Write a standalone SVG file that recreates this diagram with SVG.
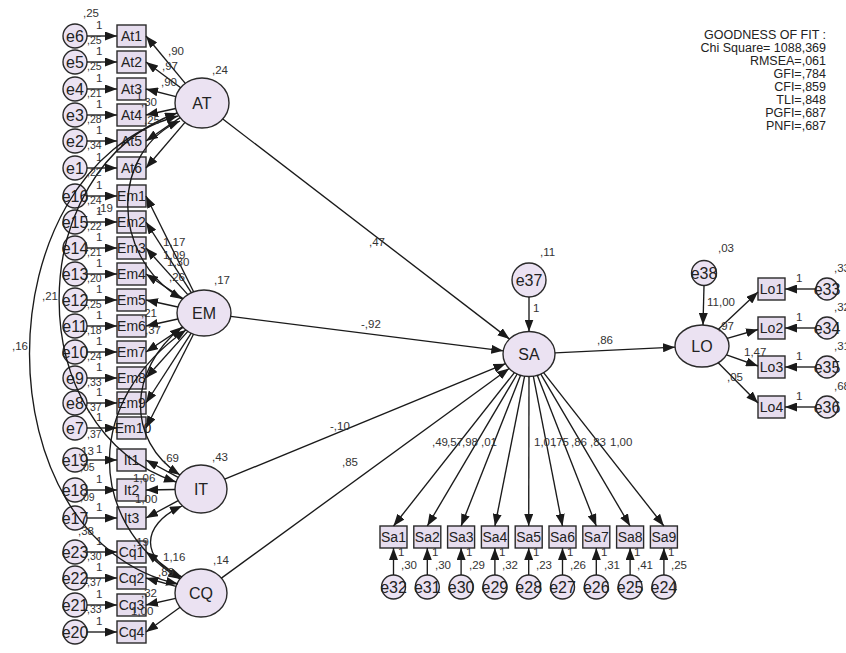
<svg xmlns="http://www.w3.org/2000/svg" width="846" height="653" viewBox="0 0 846 653">
<defs>
<marker id="ah" markerUnits="userSpaceOnUse" markerWidth="12" markerHeight="9" refX="12" refY="4.5" orient="auto-start-reverse"><path d="M0,0 L12,4.5 L0,9 z" fill="#1a1a1a"/></marker>
</defs>
<style>
.n{fill:#ebe2f2;stroke:#2a2a2a;stroke-width:1.4}
.b{fill:#e6ddee;stroke:#2a2a2a;stroke-width:1.4}
.lt{font-family:"Liberation Sans",Arial,sans-serif;font-size:16px;fill:#222;text-anchor:middle}
.bt{font-family:"Liberation Sans",Arial,sans-serif;font-size:14px;fill:#222;text-anchor:middle}
.et{font-family:"Liberation Sans",Arial,sans-serif;font-size:16px;fill:#222;text-anchor:middle}
.s{font-family:"Liberation Sans",Arial,sans-serif;font-size:11.5px;fill:#333}
.v{font-family:"Liberation Sans",Arial,sans-serif;font-size:10.5px;fill:#333}
.g{font-family:"Liberation Sans",Arial,sans-serif;font-size:12.5px;fill:#222;text-anchor:end}
.c line,.c path{stroke:#1a1a1a;stroke-width:1.35;fill:none}
.a{marker-end:url(#ah)}
.d{marker-start:url(#ah);marker-end:url(#ah)}
</style>
<rect width="846" height="653" fill="#fff"/>

<!-- latent nodes -->
<g id="AT"><ellipse class="n" cx="202" cy="103" rx="27" ry="25"/><text class="lt" x="202" y="109">AT</text></g>
<g id="EM"><ellipse class="n" cx="204" cy="313" rx="27" ry="23"/><text class="lt" x="204" y="319">EM</text></g>
<g id="IT"><ellipse class="n" cx="201" cy="489" rx="26" ry="24"/><text class="lt" x="201" y="495">IT</text></g>
<g id="CQ"><ellipse class="n" cx="201" cy="593" rx="26" ry="24"/><text class="lt" x="201" y="599">CQ</text></g>
<g id="SA"><ellipse class="n" cx="529" cy="354" rx="26" ry="22.5"/><text class="lt" x="529" y="360">SA</text></g>
<g id="LO"><ellipse class="n" cx="702" cy="346" rx="27" ry="21"/><text class="lt" x="702" y="352">LO</text></g>
<g id="e37"><circle class="n" cx="529" cy="280" r="17"/><text class="et" x="529" y="286">e37</text></g>
<g id="e38"><circle class="n" cx="704" cy="273" r="12.5"/><text class="et" x="704" y="279">e38</text></g>

<!-- left indicators -->
<g id="At1"><rect class="b" x="117" y="25" width="29" height="22"/><text class="bt" x="131.5" y="41">At1</text></g>
<g id="At2"><rect class="b" x="117" y="51" width="29" height="22"/><text class="bt" x="131.5" y="67">At2</text></g>
<g id="At3"><rect class="b" x="117" y="78" width="29" height="22"/><text class="bt" x="131.5" y="94">At3</text></g>
<g id="At4"><rect class="b" x="117" y="104" width="29" height="22"/><text class="bt" x="131.5" y="120">At4</text></g>
<g id="At5"><rect class="b" x="117" y="130" width="29" height="22"/><text class="bt" x="131.5" y="146">At5</text></g>
<g id="At6"><rect class="b" x="117" y="157" width="29" height="22"/><text class="bt" x="131.5" y="173">At6</text></g>
<g id="Em1"><rect class="b" x="117" y="185" width="29" height="22"/><text class="bt" x="131.5" y="201">Em1</text></g>
<g id="Em2"><rect class="b" x="117" y="211" width="29" height="22"/><text class="bt" x="131.5" y="227">Em2</text></g>
<g id="Em3"><rect class="b" x="117" y="237" width="29" height="22"/><text class="bt" x="131.5" y="253">Em3</text></g>
<g id="Em4"><rect class="b" x="117" y="263" width="29" height="22"/><text class="bt" x="131.5" y="279">Em4</text></g>
<g id="Em5"><rect class="b" x="117" y="289" width="29" height="22"/><text class="bt" x="131.5" y="305">Em5</text></g>
<g id="Em6"><rect class="b" x="117" y="315" width="29" height="22"/><text class="bt" x="131.5" y="331">Em6</text></g>
<g id="Em7"><rect class="b" x="117" y="341" width="29" height="22"/><text class="bt" x="131.5" y="357">Em7</text></g>
<g id="Em8"><rect class="b" x="117" y="367" width="29" height="22"/><text class="bt" x="131.5" y="383">Em8</text></g>
<g id="Em9"><rect class="b" x="117" y="392" width="29" height="22"/><text class="bt" x="131.5" y="408">Em9</text></g>
<g id="Em10"><rect class="b" x="117" y="417" width="29" height="22"/><text class="bt" x="133" y="433">Em10</text></g>
<g id="It1"><rect class="b" x="117" y="449" width="29" height="22"/><text class="bt" x="131.5" y="465">It1</text></g>
<g id="It2"><rect class="b" x="117" y="479" width="29" height="22"/><text class="bt" x="131.5" y="495">It2</text></g>
<g id="It3"><rect class="b" x="117" y="507" width="29" height="22"/><text class="bt" x="131.5" y="523">It3</text></g>
<g id="Cq1"><rect class="b" x="117" y="541" width="29" height="22"/><text class="bt" x="131.5" y="557">Cq1</text></g>
<g id="Cq2"><rect class="b" x="117" y="567" width="29" height="22"/><text class="bt" x="131.5" y="583">Cq2</text></g>
<g id="Cq3"><rect class="b" x="117" y="594" width="29" height="22"/><text class="bt" x="131.5" y="610">Cq3</text></g>
<g id="Cq4"><rect class="b" x="117" y="621" width="29" height="22"/><text class="bt" x="131.5" y="637">Cq4</text></g>

<!-- left errors -->
<g id="e6"><circle class="n" cx="75" cy="36" r="12"/><text class="et" x="75" y="42">e6</text></g>
<g id="e5"><circle class="n" cx="75" cy="62" r="12"/><text class="et" x="75" y="68">e5</text></g>
<g id="e4"><circle class="n" cx="75" cy="89" r="12"/><text class="et" x="75" y="95">e4</text></g>
<g id="e3"><circle class="n" cx="75" cy="115" r="12"/><text class="et" x="75" y="121">e3</text></g>
<g id="e2"><circle class="n" cx="75" cy="141" r="12"/><text class="et" x="75" y="147">e2</text></g>
<g id="e1"><circle class="n" cx="75" cy="168" r="12"/><text class="et" x="75" y="174">e1</text></g>
<g id="e16"><circle class="n" cx="75" cy="196" r="12"/><text class="et" x="75" y="202">e16</text></g>
<g id="e15"><circle class="n" cx="75" cy="222" r="12"/><text class="et" x="75" y="228">e15</text></g>
<g id="e14"><circle class="n" cx="75" cy="248" r="12"/><text class="et" x="75" y="254">e14</text></g>
<g id="e13"><circle class="n" cx="75" cy="274" r="12"/><text class="et" x="75" y="280">e13</text></g>
<g id="e12"><circle class="n" cx="75" cy="300" r="12"/><text class="et" x="75" y="306">e12</text></g>
<g id="e11"><circle class="n" cx="75" cy="326" r="12"/><text class="et" x="75" y="332">e11</text></g>
<g id="e10"><circle class="n" cx="75" cy="352" r="12"/><text class="et" x="75" y="358">e10</text></g>
<g id="e9"><circle class="n" cx="75" cy="378" r="12"/><text class="et" x="75" y="384">e9</text></g>
<g id="e8"><circle class="n" cx="75" cy="403" r="12"/><text class="et" x="75" y="409">e8</text></g>
<g id="e7"><circle class="n" cx="75" cy="428" r="12"/><text class="et" x="75" y="434">e7</text></g>
<g id="e19"><circle class="n" cx="75" cy="460" r="12"/><text class="et" x="75" y="466">e19</text></g>
<g id="e18"><circle class="n" cx="75" cy="490" r="12"/><text class="et" x="75" y="496">e18</text></g>
<g id="e17"><circle class="n" cx="75" cy="518" r="12"/><text class="et" x="75" y="524">e17</text></g>
<g id="e23"><circle class="n" cx="75" cy="552" r="12"/><text class="et" x="75" y="558">e23</text></g>
<g id="e22"><circle class="n" cx="75" cy="578" r="12"/><text class="et" x="75" y="584">e22</text></g>
<g id="e21"><circle class="n" cx="75" cy="605" r="12"/><text class="et" x="75" y="611">e21</text></g>
<g id="e20"><circle class="n" cx="75" cy="632" r="12"/><text class="et" x="75" y="638">e20</text></g>

<!-- SA indicators -->
<g id="Sa1"><rect class="b" x="380" y="526" width="27" height="22"/><text class="bt" x="393.5" y="542">Sa1</text></g>
<g id="Sa2"><rect class="b" x="413.8" y="526" width="27" height="22"/><text class="bt" x="427.3" y="542">Sa2</text></g>
<g id="Sa3"><rect class="b" x="447.6" y="526" width="27" height="22"/><text class="bt" x="461.1" y="542">Sa3</text></g>
<g id="Sa4"><rect class="b" x="481.4" y="526" width="27" height="22"/><text class="bt" x="494.9" y="542">Sa4</text></g>
<g id="Sa5"><rect class="b" x="515.2" y="526" width="27" height="22"/><text class="bt" x="528.7" y="542">Sa5</text></g>
<g id="Sa6"><rect class="b" x="549" y="526" width="27" height="22"/><text class="bt" x="562.5" y="542">Sa6</text></g>
<g id="Sa7"><rect class="b" x="582.8" y="526" width="27" height="22"/><text class="bt" x="596.3" y="542">Sa7</text></g>
<g id="Sa8"><rect class="b" x="616.6" y="526" width="27" height="22"/><text class="bt" x="630.1" y="542">Sa8</text></g>
<g id="Sa9"><rect class="b" x="650.4" y="526" width="27" height="22"/><text class="bt" x="663.9" y="542">Sa9</text></g>
<g id="e32"><circle class="n" cx="393.5" cy="587" r="12"/><text class="et" x="393.5" y="593">e32</text></g>
<g id="e31"><circle class="n" cx="427.3" cy="587" r="12"/><text class="et" x="427.3" y="593">e31</text></g>
<g id="e30"><circle class="n" cx="461.1" cy="587" r="12"/><text class="et" x="461.1" y="593">e30</text></g>
<g id="e29"><circle class="n" cx="494.9" cy="587" r="12"/><text class="et" x="494.9" y="593">e29</text></g>
<g id="e28"><circle class="n" cx="528.7" cy="587" r="12"/><text class="et" x="528.7" y="593">e28</text></g>
<g id="e27"><circle class="n" cx="562.5" cy="587" r="12"/><text class="et" x="562.5" y="593">e27</text></g>
<g id="e26"><circle class="n" cx="596.3" cy="587" r="12"/><text class="et" x="596.3" y="593">e26</text></g>
<g id="e25"><circle class="n" cx="630.1" cy="587" r="12"/><text class="et" x="630.1" y="593">e25</text></g>
<g id="e24"><circle class="n" cx="663.9" cy="587" r="12"/><text class="et" x="663.9" y="593">e24</text></g>

<!-- LO indicators -->
<g id="Lo1"><rect class="b" x="758" y="278" width="27" height="22"/><text class="bt" x="771.5" y="294">Lo1</text></g>
<g id="Lo2"><rect class="b" x="758" y="317" width="27" height="22"/><text class="bt" x="771.5" y="333">Lo2</text></g>
<g id="Lo3"><rect class="b" x="758" y="356" width="27" height="22"/><text class="bt" x="771.5" y="372">Lo3</text></g>
<g id="Lo4"><rect class="b" x="758" y="396" width="27" height="22"/><text class="bt" x="771.5" y="412">Lo4</text></g>
<g id="e33"><circle class="n" cx="827" cy="289" r="11"/><text class="et" x="827" y="295">e33</text></g>
<g id="e34"><circle class="n" cx="827" cy="328" r="11"/><text class="et" x="827" y="334">e34</text></g>
<g id="e35"><circle class="n" cx="827" cy="367" r="11"/><text class="et" x="827" y="373">e35</text></g>
<g id="e36"><circle class="n" cx="827" cy="407" r="11"/><text class="et" x="827" y="413">e36</text></g>

<!-- connectors -->
<g id="connectors" class="c">
<line class="a" x1="87" y1="36" x2="117" y2="36"/>
<line class="a" x1="87" y1="62" x2="117" y2="62"/>
<line class="a" x1="87" y1="89" x2="117" y2="89"/>
<line class="a" x1="87" y1="115" x2="117" y2="115"/>
<line class="a" x1="87" y1="141" x2="117" y2="141"/>
<line class="a" x1="87" y1="168" x2="117" y2="168"/>
<line class="a" x1="87" y1="196" x2="117" y2="196"/>
<line class="a" x1="87" y1="222" x2="117" y2="222"/>
<line class="a" x1="87" y1="248" x2="117" y2="248"/>
<line class="a" x1="87" y1="274" x2="117" y2="274"/>
<line class="a" x1="87" y1="300" x2="117" y2="300"/>
<line class="a" x1="87" y1="326" x2="117" y2="326"/>
<line class="a" x1="87" y1="352" x2="117" y2="352"/>
<line class="a" x1="87" y1="378" x2="117" y2="378"/>
<line class="a" x1="87" y1="403" x2="117" y2="403"/>
<line class="a" x1="87" y1="428" x2="117" y2="428"/>
<line class="a" x1="87" y1="460" x2="117" y2="460"/>
<line class="a" x1="87" y1="490" x2="117" y2="490"/>
<line class="a" x1="87" y1="518" x2="117" y2="518"/>
<line class="a" x1="87" y1="552" x2="117" y2="552"/>
<line class="a" x1="87" y1="578" x2="117" y2="578"/>
<line class="a" x1="87" y1="605" x2="117" y2="605"/>
<line class="a" x1="87" y1="632" x2="117" y2="632"/>

<line class="a" x1="185.3" y1="83.4" x2="146" y2="36"/>
<line class="a" x1="180.7" y1="87.7" x2="146" y2="62"/>
<line class="a" x1="175.9" y1="96.6" x2="146" y2="89"/>
<line class="a" x1="175.7" y1="108.5" x2="146" y2="115"/>
<line class="a" x1="180.1" y1="117.6" x2="146" y2="141"/>
<line class="a" x1="185" y1="122.4" x2="146" y2="168"/>

<line class="a" x1="193.6" y1="291.8" x2="146" y2="196"/>
<line class="a" x1="191.3" y1="292.7" x2="146" y2="222"/>
<line class="a" x1="187.8" y1="294.6" x2="146" y2="248"/>
<line class="a" x1="183" y1="298.6" x2="146" y2="274"/>
<line class="a" x1="177.9" y1="307" x2="146" y2="300"/>
<line class="a" x1="177.9" y1="319" x2="146" y2="326"/>
<line class="a" x1="183" y1="327.4" x2="146" y2="352"/>
<line class="a" x1="187.8" y1="331.4" x2="146" y2="378"/>
<line class="a" x1="191.2" y1="333.2" x2="146" y2="403"/>
<line class="a" x1="193.5" y1="334.2" x2="146" y2="428"/>

<line class="a" x1="178.2" y1="477.4" x2="146" y2="460"/>
<line class="a" x1="175" y1="489.5" x2="146" y2="490"/>
<line class="a" x1="178.2" y1="500.6" x2="146" y2="518"/>

<line class="a" x1="180.5" y1="578.2" x2="146" y2="552"/>
<line class="a" x1="176" y1="586.4" x2="146" y2="578"/>
<line class="a" x1="175.7" y1="598.3" x2="146" y2="605"/>
<line class="a" x1="180.1" y1="607.3" x2="146" y2="632"/>

<path class="d" d="M180,121 C112,150 108,255 182,299"/>
<path class="d" d="M177,113 C20,170 20,430 176,482"/>
<path class="d" d="M178,116 C-20,170 -20,540 178,584"/>
<path class="d" d="M182,327 C128,370 126,440 180,475"/>
<path class="d" d="M186,330 C85,400 85,520 180,579"/>
<path class="d" d="M182,506 C140,525 140,560 182,577"/>

<line class="a" x1="222.8" y1="119" x2="509.5" y2="339.1"/>
<line class="a" x1="230.7" y1="316.4" x2="503.3" y2="350.8"/>
<line class="a" x1="224.7" y1="479.2" x2="505.5" y2="363.7"/>
<line class="a" x1="221.4" y1="578.1" x2="509.1" y2="368.5"/>
<line class="a" x1="529" y1="297" x2="529" y2="331.5"/>
<line class="a" x1="555" y1="352.8" x2="675" y2="347.2"/>
<line class="a" x1="704" y1="285.5" x2="703" y2="325"/>

<line class="a" x1="514.4" y1="372.6" x2="393.5" y2="526"/>
<line class="a" x1="517.2" y1="374" x2="427.3" y2="526"/>
<line class="a" x1="520.6" y1="375.3" x2="461.1" y2="526"/>
<line class="a" x1="524.6" y1="376.2" x2="494.9" y2="526"/>
<line class="a" x1="529" y1="376.5" x2="528.7" y2="526"/>
<line class="a" x1="533.3" y1="376.2" x2="562.5" y2="526"/>
<line class="a" x1="537.3" y1="375.3" x2="596.3" y2="526"/>
<line class="a" x1="540.8" y1="374.1" x2="630.1" y2="526"/>
<line class="a" x1="543.6" y1="372.6" x2="663.9" y2="526"/>

<line class="a" x1="393.5" y1="575" x2="393.5" y2="548"/>
<line class="a" x1="427.3" y1="575" x2="427.3" y2="548"/>
<line class="a" x1="461.1" y1="575" x2="461.1" y2="548"/>
<line class="a" x1="494.9" y1="575" x2="494.9" y2="548"/>
<line class="a" x1="528.7" y1="575" x2="528.7" y2="548"/>
<line class="a" x1="562.5" y1="575" x2="562.5" y2="548"/>
<line class="a" x1="596.3" y1="575" x2="596.3" y2="548"/>
<line class="a" x1="630.1" y1="575" x2="630.1" y2="548"/>
<line class="a" x1="663.9" y1="575" x2="663.9" y2="548"/>

<line class="a" x1="718.4" y1="329.3" x2="758" y2="292"/>
<line class="a" x1="727.2" y1="338.4" x2="758" y2="329.5"/>
<line class="a" x1="726.5" y1="354.8" x2="758" y2="366"/>
<line class="a" x1="718.2" y1="362.8" x2="758" y2="403"/>

<line class="a" x1="816" y1="289" x2="785" y2="289"/>
<line class="a" x1="816" y1="328" x2="785" y2="328"/>
<line class="a" x1="816" y1="367" x2="785" y2="367"/>
<line class="a" x1="816" y1="407" x2="785" y2="407"/>
</g>

<!-- labels -->
<g id="labels">
<text class="s" x="83" y="17">,25</text>
<text class="s" x="96" y="29">1</text><text class="s" x="96" y="55">1</text><text class="s" x="96" y="82">1</text><text class="s" x="96" y="108">1</text><text class="s" x="96" y="134">1</text><text class="s" x="96" y="161">1</text>
<text class="s" x="96" y="189">1</text><text class="s" x="96" y="215">1</text><text class="s" x="96" y="241">1</text><text class="s" x="96" y="267">1</text><text class="s" x="96" y="293">1</text><text class="s" x="96" y="319">1</text><text class="s" x="96" y="345">1</text><text class="s" x="96" y="371">1</text><text class="s" x="96" y="396">1</text><text class="s" x="96" y="421">1</text>
<text class="s" x="96" y="453">1</text><text class="s" x="96" y="483">1</text><text class="s" x="96" y="511">1</text>
<text class="s" x="96" y="545">1</text><text class="s" x="96" y="571">1</text><text class="s" x="96" y="598">1</text><text class="s" x="96" y="625">1</text>

<text class="v" x="87" y="44">,25</text><text class="v" x="87" y="70">,25</text><text class="v" x="87" y="97">,21</text><text class="v" x="87" y="123">,28</text><text class="v" x="87" y="149">,34</text><text class="v" x="87" y="176">,22</text>
<text class="v" x="87" y="204">,24</text><text class="v" x="87" y="230">,22</text><text class="v" x="87" y="256">,21</text><text class="v" x="87" y="282">,20</text><text class="v" x="87" y="308">,25</text><text class="v" x="87" y="334">,18</text><text class="v" x="87" y="360">,24</text><text class="v" x="87" y="386">,33</text><text class="v" x="87" y="411">,37</text><text class="v" x="87" y="438">,37</text>
<text class="v" x="80" y="471">,05</text><text class="v" x="80" y="501">,09</text>
<text class="v" x="87" y="560">,30</text><text class="v" x="87" y="586">,37</text><text class="v" x="87" y="613">,33</text>
<text class="s" x="78" y="455">,13</text>
<text class="s" x="78" y="535">,38</text>
<text class="s" x="97" y="212">,19</text>
<text class="s" x="42" y="300">,21</text>
<text class="s" x="12" y="350">,16</text>

<text class="s" x="212" y="74">,24</text>
<text class="s" x="168" y="55">,90</text>
<text class="s" x="162" y="70">,97</text>
<text class="s" x="161" y="86">,90</text>
<text class="s" x="136" y="100">1</text>
<text class="s" x="141" y="106">,30</text>
<text class="s" x="144" y="124">,25</text>

<text class="s" x="163" y="246">1,17</text>
<text class="s" x="163" y="259" fill="#666">1,09</text>
<text class="s" x="167" y="266">1,30</text>
<text class="s" x="169" y="281">,26</text>
<text class="s" x="214" y="284">,17</text>
<text class="s" x="141" y="317">,21</text>
<text class="s" x="145" y="334">,37</text>

<text class="s" x="163" y="462">,69</text>
<text class="s" x="212" y="461">,43</text>
<text class="s" x="133" y="482">1,06</text>
<text class="s" x="135" y="503">1,00</text>

<text class="s" x="133" y="546">,19</text>
<text class="s" x="163" y="561">1,16</text>
<text class="s" x="158" y="576">,89</text>
<text class="s" x="141" y="597">,32</text>
<text class="s" x="131" y="615">1,00</text>
<text class="s" x="213" y="564">,14</text>

<text class="s" x="369" y="246">,47</text>
<text class="s" x="361" y="328">-,92</text>
<text class="s" x="330" y="430">-,10</text>
<text class="s" x="342" y="466">,85</text>
<text class="s" x="540" y="256">,11</text>
<text class="s" x="533" y="312">1</text>
<text class="s" x="597" y="344">,86</text>

<text class="s" x="432" y="446">,49</text>
<text class="s" x="447" y="446">,57</text>
<text class="s" x="462" y="446">,98</text>
<text class="s" x="481" y="446">,01</text>
<text class="s" x="534" y="446">1,01</text>
<text class="s" x="553" y="446">,75</text>
<text class="s" x="571" y="446">,86</text>
<text class="s" x="590" y="446">,83</text>
<text class="s" x="610" y="446">1,00</text>

<text class="s" x="398" y="556">1</text><text class="s" x="401" y="569">,30</text>
<text class="s" x="432" y="556">1</text><text class="s" x="435" y="569">,30</text>
<text class="s" x="466" y="556">1</text><text class="s" x="469" y="569">,29</text>
<text class="s" x="499" y="556">1</text><text class="s" x="502" y="569">,32</text>
<text class="s" x="533" y="556">1</text><text class="s" x="536" y="569">,23</text>
<text class="s" x="567" y="556">1</text><text class="s" x="570" y="569">,26</text>
<text class="s" x="601" y="556">1</text><text class="s" x="604" y="569">,31</text>
<text class="s" x="634" y="556">1</text><text class="s" x="637" y="569">,41</text>
<text class="s" x="668" y="556">1</text><text class="s" x="671" y="569">,25</text>

<text class="s" x="718" y="252">,03</text>
<text class="s" x="707" y="306">11,00</text>
<text class="s" x="718" y="330">,97</text>
<text class="s" x="744" y="356">1,47</text>
<text class="s" x="727" y="381">,05</text>
<text class="s" x="796" y="282">1</text>
<text class="s" x="796" y="321">1</text>
<text class="s" x="796" y="360">1</text>
<text class="s" x="796" y="400">1</text>
<text class="s" x="834" y="272">,33</text>
<text class="s" x="834" y="311">,32</text>
<text class="s" x="834" y="350">,31</text>
<text class="s" x="834" y="390">,68</text>
</g>

<g id="fit">
<text class="g" x="826" y="39">GOODNESS OF FIT :</text>
<text class="g" x="826" y="52">Chi Square= 1088,369</text>
<text class="g" x="826" y="65">RMSEA=,061</text>
<text class="g" x="826" y="78">GFI=,784</text>
<text class="g" x="826" y="91">CFI=,859</text>
<text class="g" x="826" y="104">TLI=,848</text>
<text class="g" x="826" y="117">PGFI=,687</text>
<text class="g" x="826" y="130">PNFI=,687</text>
</g>
</svg>
